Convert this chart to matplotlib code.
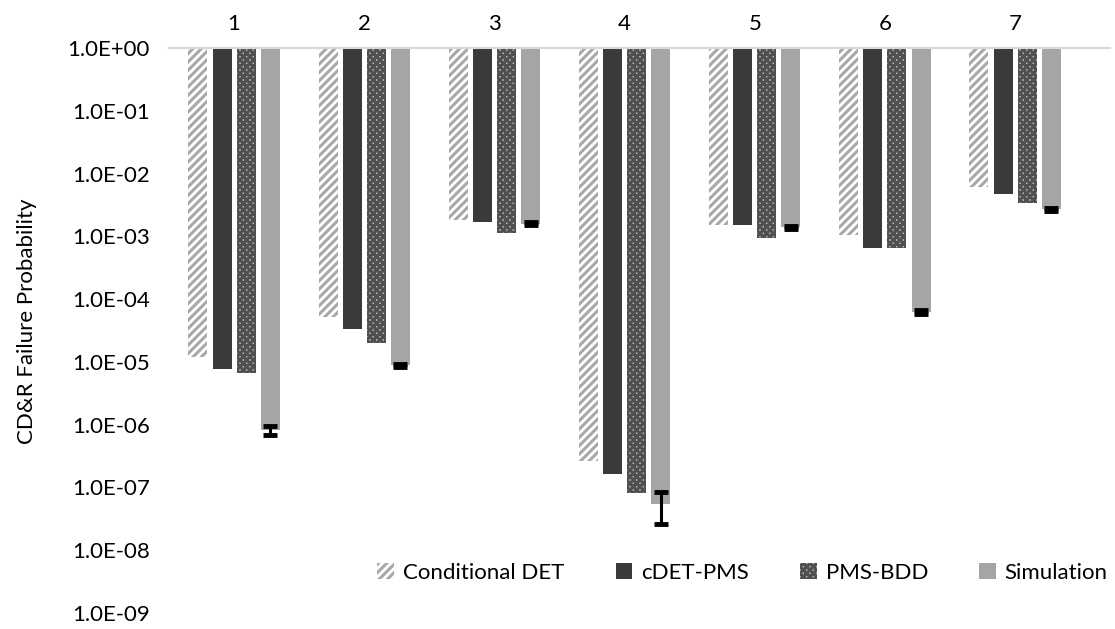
import numpy as np
import matplotlib
matplotlib.use("Agg")
import matplotlib.pyplot as plt

plt.rcParams['font.family'] = ['Lato', 'DejaVu Sans']
plt.rcParams['hatch.linewidth'] = 2.2

# data
groups = ['1', '2', '3', '4', '5', '6', '7']
cond_det = [1.2e-5, 5.2e-5, 1.8e-3, 2.6e-7, 1.5e-3, 1.05e-3, 6.1e-3]
cdet_pms = [7.7e-6, 3.4e-5, 1.7e-3, 1.65e-7, 1.5e-3, 6.6e-4, 4.7e-3]
pms_bdd = [6.7e-6, 2.0e-5, 1.13e-3, 8.3e-8, 9.4e-4, 6.6e-4, 3.4e-3]
simulation = [8.3e-7, 8.9e-6, 1.6e-3, 5.5e-8, 1.4e-3, 6.2e-5, 2.7e-3]
sim_low = [6.9e-7, 8.4e-6, 1.5e-3, 2.6e-8, 1.33e-3, 5.9e-5, 2.55e-3]
sim_high = [9.6e-7, 9.4e-6, 1.68e-3, 8.5e-8, 1.48e-3, 6.6e-5, 2.85e-3]
yticks = [10.0 ** -k for k in range(0, 10)]

fig = plt.figure(figsize=(11.15, 6.29), dpi=100)
ax = fig.add_axes([0.1516, 0.0254, 0.844, 0.8983])

x = np.arange(len(groups))
w = 0.146
step = 0.185

def hang(vals, off, **kw):
    vals = np.array(vals)
    return ax.bar(x + off, 1 - vals, bottom=vals, width=w, **kw)

b1 = hang(cond_det, -1.5 * step, facecolor='white', edgecolor='#a8a8a8',
          hatch='////', linewidth=0, label='Conditional DET')
b2 = hang(cdet_pms, -0.5 * step, color='#3a3a3a', linewidth=0, label='cDET-PMS')
b3 = hang(pms_bdd, 0.5 * step, facecolor='#b8b8b8', edgecolor='#505050',
          hatch='xxxxx', linewidth=0, label='PMS-BDD')
b4 = hang(simulation, 1.5 * step, color='#a5a5a5', linewidth=0, label='Simulation')
for b in (b1, b3):
    for p in b:
        p.set_linewidth(0)

sim = np.array(simulation)
yerr = [sim - np.array(sim_low), np.array(sim_high) - sim]
ax.errorbar(x + 1.5 * step, sim, yerr=yerr, fmt='none', ecolor='black',
            elinewidth=2.2, capsize=5, capthick=3.5)

ax.set_yscale('log')
ax.set_ylim(1e-9, 1)
ax.set_yticks(yticks)
ax.set_yticklabels(['1.0E+00' if v == 1 else '1.0E-%02d' % k for k, v in enumerate(yticks)])
ax.minorticks_off()
ax.set_xlim(-0.5, 6.73)
ax.set_xticks(x)
ax.set_xticklabels(groups)
ax.xaxis.tick_top()
ax.tick_params(axis='x', length=0, pad=10, labelsize=16, colors='#000000')
ax.tick_params(axis='y', length=0, pad=14, labelsize=16, colors='#000000')
for s in ('left', 'right', 'bottom'):
    ax.spines[s].set_visible(False)
ax.spines['top'].set_color('#d9d9d9')
ax.spines['top'].set_linewidth(1.5)

fig.text(0.024, 0.49, 'CD&R Failure Probability', rotation=90, ha='center',
         va='center', fontsize=16)

leg = fig.legend(handles=[b1, b2, b3, b4], loc='center', ncol=4,
                 bbox_to_anchor=(0.666, 0.089), frameon=False, fontsize=16,
                 handlelength=0.75, handleheight=0.75, handletextpad=0.4,
                 columnspacing=2.3)

fig.savefig('out.png', dpi=100)
